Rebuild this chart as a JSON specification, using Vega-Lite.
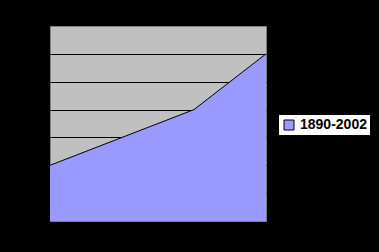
{
  "$schema": "https://vega.github.io/schema/vega-lite/v6.json",
  "width": 216,
  "height": 195,
  "autosize": "none",
  "padding": {"left": 50, "top": 26, "right": 113, "bottom": 31},
  "background": "black",
  "view": {"fill": "#c0c0c0", "stroke": "#808080", "strokeWidth": 1},
  "data": {"values": [
    {"i": 0, "v": 2, "s": "1890-2002"},
    {"i": 1, "v": 3, "s": "1890-2002"},
    {"i": 2, "v": 4, "s": "1890-2002"},
    {"i": 3, "v": 6, "s": "1890-2002"}
  ]},
  "encoding": {
    "x": {"field": "i", "type": "quantitative", "scale": {"domain": [0, 3], "nice": false, "zero": false}, "axis": null},
    "y": {"field": "v", "type": "quantitative", "scale": {"domain": [0, 7], "nice": false},
      "axis": {"values": [1, 2, 3, 4, 5, 6], "grid": true, "gridColor": "black", "gridWidth": 1, "gridOpacity": 1, "labels": false, "ticks": false, "domain": false, "title": null}}
  },
  "layer": [
    {"mark": {"type": "area", "opacity": 1},
     "encoding": {"color": {"field": "s", "type": "nominal", "scale": {"range": ["#9999ff"]},
       "legend": {"title": null, "orient": "none", "legendX": 229, "legendY": 89, "fillColor": "white", "padding": 3,
         "symbolType": "square", "symbolSize": 100, "symbolStrokeColor": "black", "symbolStrokeWidth": 1, "symbolOpacity": 1,
         "labelFont": "Liberation Sans", "labelFontWeight": "bold", "labelFontSize": 14, "labelColor": "black", "labelOffset": 4}}}},
    {"mark": {"type": "line", "color": "black", "strokeWidth": 1}}
  ]
}
